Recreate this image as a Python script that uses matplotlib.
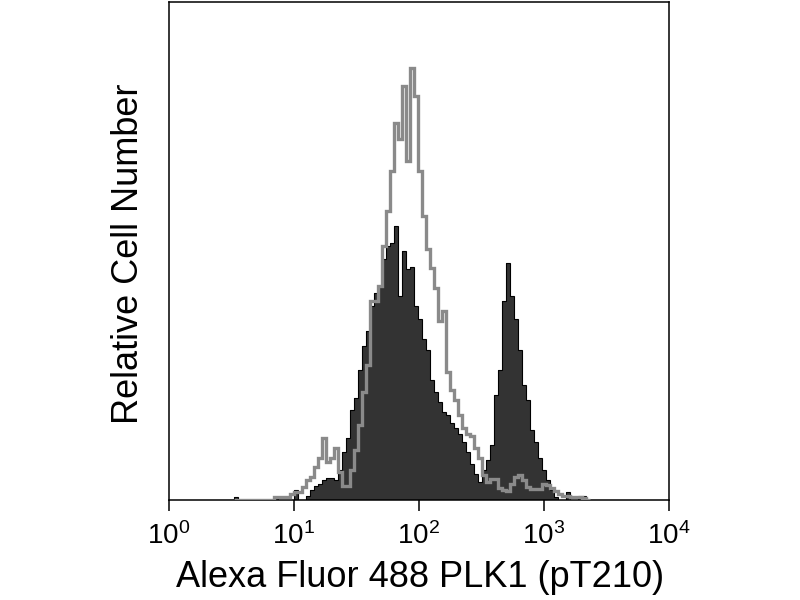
import numpy as np
import matplotlib
matplotlib.use('Agg')
import matplotlib.pyplot as plt
from matplotlib.ticker import FixedLocator

#histogram channels, log10 of the first edge and channel width (decades)
logStart = 0.52
binWidth = 0.032

#filled histogram (stained sample), relative counts per channel
stained = [3, 0, 0, 0, 0, 0, 0, 0, 0, 0,
           3, 0, 0, 0, 0, 10, 0, 0, 4, 10,
           14, 16, 20, 22, 22, 20, 30, 48, 62, 90,
           102, 130, 155, 170, 195, 208, 215, 242, 255, 258,
           275, 205, 250, 232, 234, 195, 182, 162, 150, 120,
           108, 98, 88, 85, 77, 72, 66, 58, 48, 36,
           26, 18, 30, 40, 55, 105, 130, 200, 238, 205,
           182, 150, 115, 100, 70, 58, 42, 30, 20, 10,
           3, 0, 0, 8, 0, 0, 4, 4, 0]

#open histogram (control), relative counts per channel
control = [0, 0, 0, 0, 0, 0, 0, 0, 0, 0,
           3, 3, 3, 3, 6, 8, 8, 13, 20, 23,
           33, 42, 62, 38, 42, 52, 28, 14, 14, 30,
           50, 75, 108, 135, 200, 200, 215, 255, 290, 330,
           378, 362, 415, 340, 433, 405, 330, 285, 252, 233,
           213, 180, 190, 128, 110, 100, 85, 72, 66, 64,
           52, 42, 25, 18, 21, 21, 12, 10, 9, 16,
           23, 25, 20, 13, 11, 11, 11, 16, 15, 12,
           9, 6, 4, 4, 3, 3, 3, 2, 0]

xTicks = [1, 10, 100, 1000, 10000]
xLabel = 'Alexa Fluor 488 PLK1 (pT210)'
yLabel = 'Relative Cell Number'

edges = 10 ** (logStart + binWidth * np.arange(len(stained) + 1))

fig = plt.figure(figsize=(8, 6), dpi=100)
ax = fig.add_axes([0.21125, 0.1667, 0.625, 0.8305])

ax.stairs(stained, edges, fill=True, color='#333333', zorder=2)
ax.stairs(stained, edges, color='black', linewidth=0.8, zorder=3)
ax.stairs(control, edges, color='#8a8a8a', linewidth=2.4, zorder=4)

ax.set_xscale('log')
ax.set_xlim(1, 10000)
ax.set_ylim(0, 500)
ax.xaxis.set_major_locator(FixedLocator(xTicks))
ax.xaxis.set_minor_locator(FixedLocator([]))
ax.set_yticks([])
ax.tick_params(axis='x', direction='out', length=8, width=1.1, pad=8, labelsize=20)
for lab in ax.get_xticklabels():
    lab.set_fontfamily('Liberation Sans')
for sp in ax.spines.values():
    sp.set_linewidth(1.1)
    sp.set_color('black')

ax.set_xlabel(xLabel, fontsize=26, family='Liberation Sans', va='center')
ax.xaxis.set_label_coords(0.502, -0.156)
ax.set_ylabel(yLabel, fontsize=26, family='Liberation Sans', va='center')
ax.yaxis.set_label_coords(-0.08, 0.495)

fig.savefig('out.png', dpi=100)
